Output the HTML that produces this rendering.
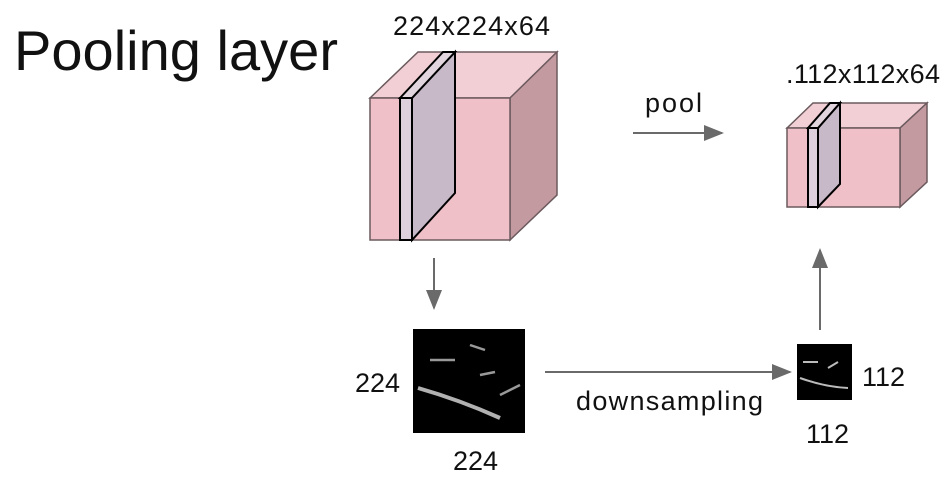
<!DOCTYPE html>
<html><head><meta charset="utf-8"><style>
body{margin:0;background:#fff;width:948px;height:481px;overflow:hidden}
svg{display:block}
text{font-family:"Liberation Sans",sans-serif;fill:#111}
</style></head><body>
<svg width="948" height="481">
<defs>
<marker id="ah" markerWidth="10" markerHeight="8" refX="9" refY="4" orient="auto"><path d="M0,0 L10,4 L0,8 z" fill="#6a6a6a"/></marker>
</defs>
<text x="14" y="70" font-size="56" textLength="324">Pooling layer</text>

<g stroke="#6b5a5e" stroke-width="1.5">
<polygon points="370,98 418,52 557,52 510,98" fill="#f1cfd4"/>
<polygon points="510,98 557,52 557,195 510,240" fill="#c49aa1"/>
<rect x="370" y="98" width="140" height="142" fill="#efc0c8"/>
<polygon points="412,98 455,52 455,193 412,240" fill="#c8b9c8" stroke="#000" stroke-width="2"/>
<polygon points="400,98 443,52 455,52 412,98" fill="#e3d5de" stroke="#000" stroke-width="2"/>
<rect x="400" y="98" width="12" height="142" fill="#ddd0dc" stroke="#000" stroke-width="2"/>
</g>
<text x="393" y="35" font-size="27" textLength="157">224x224x64</text>

<g stroke="#6b5a5e" stroke-width="1.5">
<polygon points="787,128 813,103 927,103 900,128" fill="#f1cfd4"/>
<polygon points="900,128 927,103 927,182 900,207" fill="#c49aa1"/>
<rect x="787" y="128" width="113" height="79" fill="#efc0c8"/>
<polygon points="818,128 840,103 840,184 818,207" fill="#c8b9c8" stroke="#000" stroke-width="2"/>
<polygon points="808,128 830,103 840,103 818,128" fill="#e3d5de" stroke="#000" stroke-width="2"/>
<rect x="808" y="128" width="10" height="79" fill="#ddd0dc" stroke="#000" stroke-width="2"/>
</g>
<text x="786" y="83" font-size="27" textLength="154">.112x112x64</text>

<line x1="633" y1="133" x2="722" y2="133" stroke="#6a6a6a" stroke-width="2" marker-end="url(#ah)"/>
<text x="645" y="112" font-size="27" textLength="57">pool</text>
<line x1="434" y1="258" x2="434" y2="308" stroke="#6a6a6a" stroke-width="2" marker-end="url(#ah)"/>
<line x1="820" y1="330" x2="820" y2="250" stroke="#6a6a6a" stroke-width="2" marker-end="url(#ah)"/>
<line x1="545" y1="372" x2="790" y2="372" stroke="#6a6a6a" stroke-width="2" marker-end="url(#ah)"/>
<text x="576" y="410" font-size="27" textLength="187">downsampling</text>

<g>
<rect x="413" y="329" width="112" height="104" fill="#000"/>
<path d="M418,388 Q460,400 500,418" stroke="#ddd" stroke-width="4" fill="none" opacity="0.8"/>
<path d="M430,360 L455,360 M480,375 L495,372 M470,345 L485,350 M500,395 L520,385" stroke="#999" stroke-width="2.5"/>
</g>
<text x="355" y="392" font-size="27">224</text>
<text x="453" y="470" font-size="27">224</text>

<g>
<rect x="797" y="344" width="55" height="56" fill="#000"/>
<path d="M800,378 Q825,387 848,388 M803,362 L818,362 M828,368 L838,362" stroke="#bbb" stroke-width="2" fill="none"/>
</g>
<text x="862" y="386" font-size="27">112</text>
<text x="806" y="443" font-size="27">112</text>
</svg>
</body></html>
